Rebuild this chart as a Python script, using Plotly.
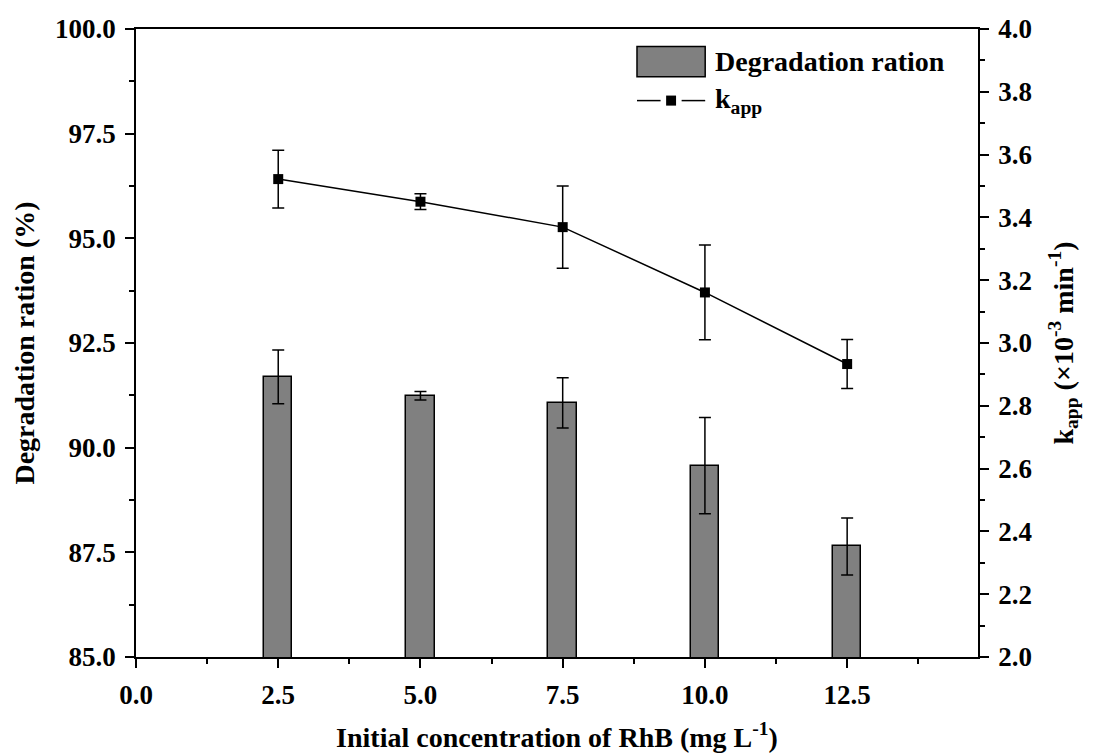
import plotly.graph_objects as go

# Initial RhB concentration (mg/L)
concentration = [2.5, 5.0, 7.5, 10.0, 12.5]

# Degradation ratio (%) with standard deviations
degradation = [91.69, 91.24, 91.07, 89.57, 87.64]
degradation_err = [0.64, 0.10, 0.60, 1.15, 0.68]

# Apparent rate constant k_app (x10^-3 min^-1) with standard deviations
k_app = [3.522, 3.450, 3.369, 3.161, 2.933]
k_app_err = [0.092, 0.025, 0.131, 0.151, 0.078]

x_ticks = [0.0, 2.5, 5.0, 7.5, 10.0, 12.5]
y_left_ticks = [85.0, 87.5, 90.0, 92.5, 95.0, 97.5, 100.0]
y_right_ticks = [2.0, 2.2, 2.4, 2.6, 2.8, 3.0, 3.2, 3.4, 3.6, 3.8, 4.0]

FONT = "Liberation Serif"
TICK_SIZE = 27
TITLE_SIZE = 28

tick_font = dict(family=FONT, size=TICK_SIZE, color="black", weight="bold")
title_font = dict(family=FONT, size=TITLE_SIZE, color="black", weight="bold")

fig = go.Figure()

fig.add_trace(go.Bar(
    x=concentration, y=degradation, width=0.5,
    marker=dict(color="#808080", line=dict(color="black", width=1.5)),
    error_y=dict(type="data", array=degradation_err, color="black",
                 thickness=1.5, width=6),
    name="Degradation ration", showlegend=False,
))

fig.add_trace(go.Scatter(
    x=concentration, y=k_app, yaxis="y2", mode="lines+markers",
    line=dict(color="black", width=1.5),
    marker=dict(symbol="square", size=10, color="black"),
    error_y=dict(type="data", array=k_app_err, color="black",
                 thickness=1.5, width=6),
    name="k_app", showlegend=False,
))

axis_common = dict(
    showline=True, linecolor="black", linewidth=1.5,
    ticks="outside", tickcolor="black", tickwidth=1.5, ticklen=9,
    showgrid=False, zeroline=False, automargin=False,
    tickfont=tick_font, tickformat=".1f", ticklabelstandoff=4,
)

fig.update_layout(
    width=1094, height=753,
    margin=dict(l=136, r=116, t=29, b=96),
    plot_bgcolor="white", paper_bgcolor="white",
    font=dict(family=FONT, color="black"),
    bargap=0,
    xaxis=dict(
        **axis_common,
        range=[0, 14.8], mirror=True,
        tickvals=x_ticks,
        minor=dict(dtick=1.25, tick0=0, ticks="outside", ticklen=5,
                   tickwidth=1.5, tickcolor="black"),
        title=dict(text="Initial concentration of RhB (mg L<sup>-1</sup>)",
                   font=title_font, standoff=22),
    ),
    yaxis=dict(
        **axis_common,
        range=[85, 100],
        tickvals=y_left_ticks,
        minor=dict(dtick=1.25, tick0=85, ticks="outside", ticklen=5,
                   tickwidth=1.5, tickcolor="black"),
        title=dict(text="Degradation ration (%)", font=title_font, standoff=12),
    ),
    yaxis2=dict(
        **axis_common,
        overlaying="y", side="right", anchor="x",
        range=[2.0, 4.0],
        tickvals=y_right_ticks,
        minor=dict(dtick=0.1, tick0=2.0, ticks="outside", ticklen=5,
                   tickwidth=1.5, tickcolor="black"),
        title=dict(text="k<sub>app</sub> (×10<sup>-3</sup> min<sup>-1</sup>)",
                   font=title_font, standoff=22),
    ),
)

# Legend drawn in paper coordinates
fig.add_shape(type="rect", xref="paper", yref="paper",
              x0=0.595, x1=0.676, y0=0.924, y1=0.972,
              fillcolor="#808080", line=dict(color="black", width=1.5))
fig.add_annotation(xref="paper", yref="paper", x=0.6855, y=0.948,
                   xanchor="left", yanchor="middle", showarrow=False,
                   text="Degradation ration", font=title_font)
fig.add_shape(type="line", xref="paper", yref="paper",
              x0=0.595, x1=0.623, y0=0.886, y1=0.886,
              line=dict(color="black", width=1.5))
fig.add_shape(type="line", xref="paper", yref="paper",
              x0=0.648, x1=0.676, y0=0.886, y1=0.886,
              line=dict(color="black", width=1.5))
fig.add_shape(type="rect", xref="paper", yref="paper",
              x0=0.6296, x1=0.6414, y0=0.878, y1=0.894,
              fillcolor="black", line=dict(color="black", width=0))
fig.add_annotation(xref="paper", yref="paper", x=0.6855, y=0.886,
                   xanchor="left", yanchor="middle", showarrow=False,
                   text="k<sub>app</sub>", font=title_font)

fig.write_html("out.html")
